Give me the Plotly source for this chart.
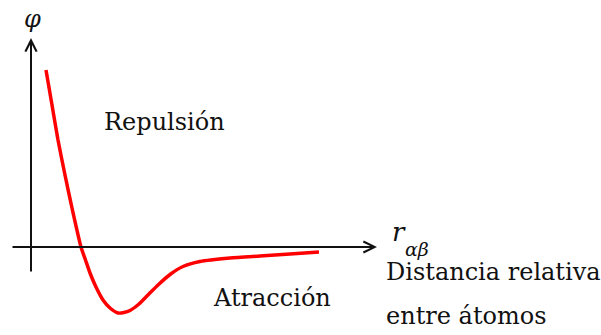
import plotly.graph_objects as go

# Interatomic potential phi(r) sketch, arbitrary units
r_vals = [1.5, 2.1, 2.7, 3.4, 4.1, 5.0, 5.45, 5.9, 6.5, 7.2, 7.9, 8.7, 9.3,
          9.9, 10.8, 11.7, 12.7, 13.9, 15.2, 16.9, 19.9, 22.9, 25.9, 28.8]
phi_vals = [17.7, 14.2, 10.7, 7.2, 3.9, 0.0, -1.3, -2.6, -4.0, -5.3, -6.1, -6.6,
            -6.55, -6.35, -5.7, -4.8, -3.8, -2.75, -1.95, -1.45, -1.1, -0.9,
            -0.7, -0.5]

# Axis extents (arrow tail -> arrow tip)
x_axis_span = [-2.0, 34.6]
y_axis_span = [-2.6, 20.9]

SERIF = "DejaVu Serif"
INK = "#111111"

fig = go.Figure()

fig.add_trace(go.Scatter(
    x=r_vals, y=phi_vals, mode="lines",
    line=dict(color="#ff0000", width=3.5, shape="spline", smoothing=0.6),
    hoverinfo="skip", showlegend=False,
))

arrow_style = dict(showarrow=True, text="", arrowhead=5, arrowsize=1.1,
                   arrowwidth=2, arrowcolor=INK, axref="x", ayref="y",
                   xref="x", yref="y", standoff=0, startstandoff=0)

# horizontal axis
fig.add_annotation(x=x_axis_span[1], y=0, ax=x_axis_span[0], ay=0, **arrow_style)
# vertical axis
fig.add_annotation(x=0, y=y_axis_span[1], ax=0, ay=y_axis_span[0], **arrow_style)

labels = [
    dict(text="<i>φ</i>", x=0.1, y=22.8, xanchor="center", size=24),
    dict(text="<i>r</i>", x=36.0, y=1.5, xanchor="left", size=26),
    dict(text="<i>αβ</i>", x=37.3, y=-0.15, xanchor="left", size=19),
    dict(text="Repulsión", x=7.2, y=12.5, xanchor="left", size=24),
    dict(text="Atracción", x=18.1, y=-5.1, xanchor="left", size=24),
    dict(text="Distancia relativa", x=35.4, y=-2.45, xanchor="left", size=24),
    dict(text="entre átomos", x=35.4, y=-6.9, xanchor="left", size=24),
]
for lb in labels:
    fig.add_annotation(text=lb["text"], x=lb["x"], y=lb["y"], xref="x", yref="y",
                       xanchor=lb["xanchor"], yanchor="middle", showarrow=False,
                       borderpad=0,
                       font=dict(family=SERIF, size=lb["size"], color=INK))

fig.update_xaxes(range=[-3.1, 57.0], visible=False, fixedrange=True)
fig.update_yaxes(range=[-8.8, 24.7], visible=False, fixedrange=True)
fig.update_layout(
    width=601, height=335,
    margin=dict(l=0, r=0, t=0, b=0),
    paper_bgcolor="white", plot_bgcolor="white",
    font=dict(family=SERIF),
)

fig.write_html("out.html")
